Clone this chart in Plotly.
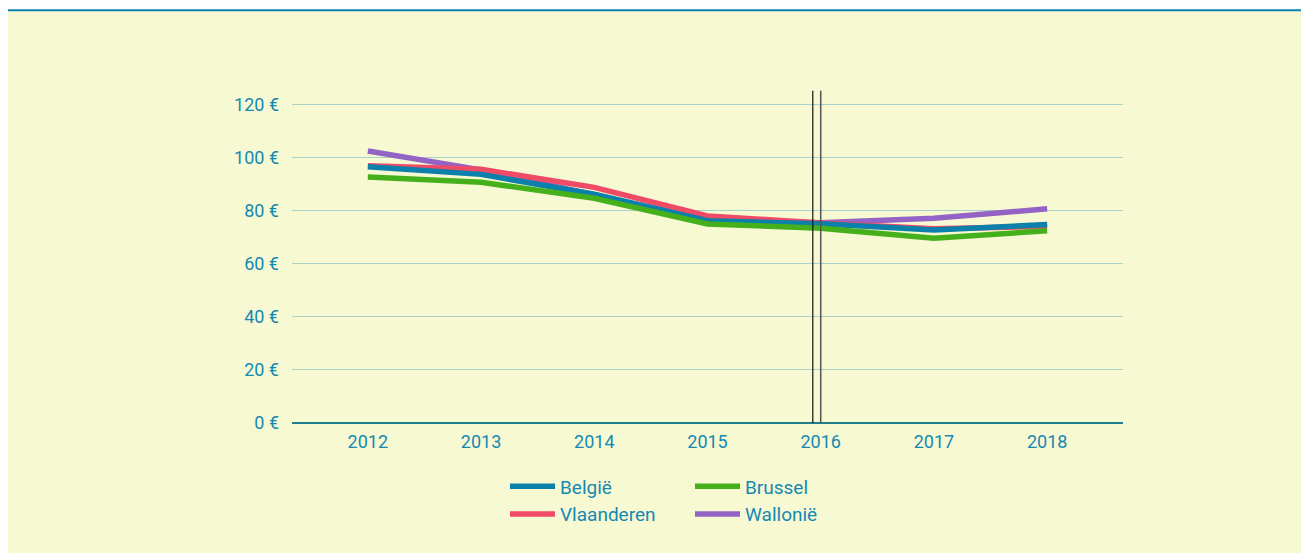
import plotly.graph_objects as go

years = ["2012", "2013", "2014", "2015", "2016", "2017", "2018"]
belgie = [96.7, 93.8, 86.3, 76.3, 75.2, 72.8, 74.9]
brussel = [92.8, 90.8, 84.8, 75.1, 73.5, 69.7, 72.5]
vlaanderen = [97.0, 95.7, 88.9, 78.1, 75.5, 73.3, 74.2]
wallonie = [102.6, 95.5, 86.0, 76.6, 75.5, 77.2, 80.8]
y_ticks = [0, 20, 40, 60, 80, 100, 120]
y_tick_labels = [f"{v} €" for v in y_ticks]

BG = "#F7F9D3"
TXT = "#1589B2"

# figure geometry (page body has an 8px margin)
W, HF = 1301, 545
L, R, T, B = 284, 1115, 81, 415
PW, PH = R - L, B - T

fig = go.Figure()
order = [
    ("Wallonië", wallonie, "#9463C6", "legend2"),
    ("Vlaanderen", vlaanderen, "#F04B66", "legend"),
    ("België", belgie, "#0A80AA", "legend"),
    ("Brussel", brussel, "#45B01B", "legend2"),
]
for name, vals, col, lg in order:
    fig.add_trace(go.Scatter(x=years, y=vals, name=name, mode="lines",
                             line=dict(color=col, width=5.5), legend=lg))

# vertical double line marker
fig.add_shape(type="line", xref="x", yref="y", x0=3.93, x1=3.93, y0=0, y1=125.3,
              line=dict(color="#111111", width=1.2), layer="above")
fig.add_shape(type="line", xref="x", yref="y", x0=4.0, x1=4.0, y0=0, y1=125.3,
              line=dict(color="#555555", width=1.5), layer="above")

# white top band and blue rule
fig.add_shape(type="rect", xref="paper", yref="paper",
              x0=-L / PW, x1=(W - L) / PW,
              y0=1 + (T - 3) / PH, y1=1 + (T + 1) / PH,
              fillcolor="white", line=dict(width=0), layer="below")
fig.add_shape(type="line", xref="paper", yref="paper",
              x0=-L / PW, x1=(W - L) / PW,
              y0=1 + (T - 2.2) / PH, y1=1 + (T - 2.2) / PH,
              line=dict(color="#0A80AA", width=2))

legend_common = dict(orientation="v", font=dict(size=19, color=TXT, family="Roboto"),
                     bgcolor="rgba(0,0,0,0)", itemwidth=45, tracegroupgap=0,
                     xanchor="left", yanchor="top", traceorder="reversed")
fig.update_layout(
    width=W, height=HF,
    margin=dict(l=L, r=W - R, t=T, b=HF - B),
    paper_bgcolor=BG, plot_bgcolor=BG,
    font=dict(family="Roboto", size=18, color=TXT),
    showlegend=True,
    legend=dict(x=(497 - L) / PW, y=-44.5 / PH, **legend_common),
    legend2=dict(x=(682 - L) / PW, y=-44.5 / PH, **legend_common),
    xaxis=dict(type="category", range=[-0.67, 6.67], showgrid=False,
               showline=False, ticks="", tickfont=dict(size=18, color=TXT),
               ticklabelstandoff=6, fixedrange=True),
    yaxis=dict(range=[0, 126], tickvals=y_ticks, ticktext=y_tick_labels,
               showgrid=True, gridcolor="#A9D3C9", gridwidth=1.2,
               zeroline=True, zerolinecolor="#1D7F8C", zerolinewidth=2,
               showline=False, ticks="", ticklabelstandoff=12,
               tickfont=dict(size=18, color=TXT)),
)

fig.write_html("out.html")
